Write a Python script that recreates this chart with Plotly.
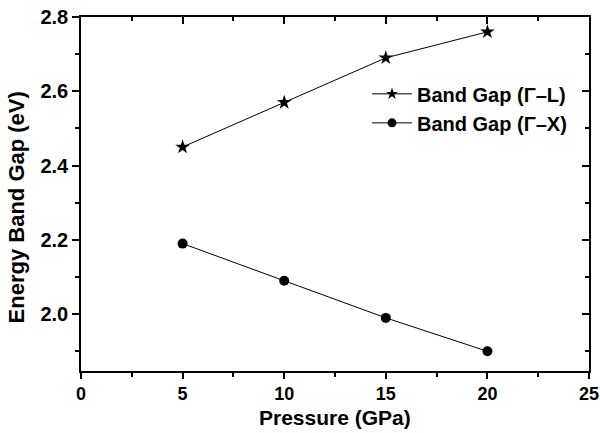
import plotly.graph_objects as go

pressure = [5, 10, 15, 20]
gap_L = [2.45, 2.57, 2.69, 2.76]
gap_X = [2.19, 2.09, 1.99, 1.90]
x_ticks = [0, 5, 10, 15, 20, 25]
y_ticks = [2.0, 2.2, 2.4, 2.6, 2.8]
names = ["Band Gap (Γ–L)", "Band Gap (Γ–X)"]
x_title = "Pressure (GPa)"
y_title = "Energy Band Gap (eV)"

FONT = "Liberation Sans"

fig = go.Figure()
fig.add_trace(go.Scatter(x=pressure, y=gap_L, mode="lines+markers", showlegend=False,
                         line=dict(color="black", width=1),
                         marker=dict(symbol="star", size=11, color="black")))
fig.add_trace(go.Scatter(x=pressure, y=gap_X, mode="lines+markers", showlegend=False,
                         line=dict(color="black", width=1),
                         marker=dict(symbol="circle", size=10, color="black")))
# legend entries (smaller symbols, as in the reference)
fig.add_trace(go.Scatter(x=[None], y=[None], mode="lines+markers", name=names[0],
                         line=dict(color="black", width=1),
                         marker=dict(symbol="star", size=9, color="black")))
fig.add_trace(go.Scatter(x=[None], y=[None], mode="lines+markers", name=names[1],
                         line=dict(color="black", width=1),
                         marker=dict(symbol="circle", size=9, color="black")))

xr = [0, 25]
yr = [1.847, 2.8]
common = dict(showgrid=False, zeroline=False, linecolor="black", linewidth=1.5,
              tickcolor="black", tickwidth=1.5, automargin=False)
BOLD = dict(family=FONT, weight="bold", color="black")
fig.update_layout(
    width=600, height=433,
    margin=dict(l=81, r=11, t=17, b=62),
    plot_bgcolor="white", paper_bgcolor="white",
    font=dict(family=FONT, color="black"),
    showlegend=True,
    legend=dict(x=0.563, y=0.838, xanchor="left", yanchor="top", itemwidth=40,
                bgcolor="rgba(0,0,0,0)", font=dict(size=20, **BOLD),
                tracegroupgap=0),
    xaxis=dict(range=xr, tickvals=x_ticks, tickformat="d",
               ticks="outside", ticklen=6, mirror=True,
               tickfont=dict(size=18, **BOLD), showline=True,
               minor=dict(dtick=2.5, ticks="outside", ticklen=4, tickcolor="black", tickwidth=1.5),
               **common),
    yaxis=dict(range=yr, tickvals=y_ticks, tickformat=".1f",
               ticks="outside", ticklen=7, mirror=True,
               tickfont=dict(size=20, **BOLD), showline=True,
               minor=dict(dtick=0.1, tick0=2.0, ticks="outside", ticklen=4, tickcolor="black", tickwidth=1.5),
               **common),
    xaxis2=dict(range=xr, overlaying="x", anchor="y", side="top", tickvals=x_ticks, ticks="inside",
                ticklen=7, showticklabels=False, showline=False,
                minor=dict(dtick=2.5, ticks="inside", ticklen=4, tickcolor="black", tickwidth=1.5),
                **common),
    yaxis2=dict(range=yr, overlaying="y", anchor="x", side="right", tickvals=y_ticks, ticks="inside",
                ticklen=7, showticklabels=False, showline=False,
                minor=dict(dtick=0.1, tick0=2.0, ticks="inside", ticklen=4, tickcolor="black", tickwidth=1.5),
                **common),
    annotations=[
        dict(text=x_title, xref="paper", yref="paper", x=0.5, y=-0.13,
             xanchor="center", yanchor="middle", showarrow=False, font=dict(size=21, **BOLD)),
        dict(text=y_title, xref="paper", yref="paper", x=-0.128, y=0.462, textangle=-90,
             xanchor="center", yanchor="middle", showarrow=False, font=dict(size=22, **BOLD)),
    ],
)
fig.add_trace(go.Scatter(x=[None], y=[None], xaxis="x2", yaxis="y2", showlegend=False, hoverinfo="skip"))
fig.write_html("out.html")
